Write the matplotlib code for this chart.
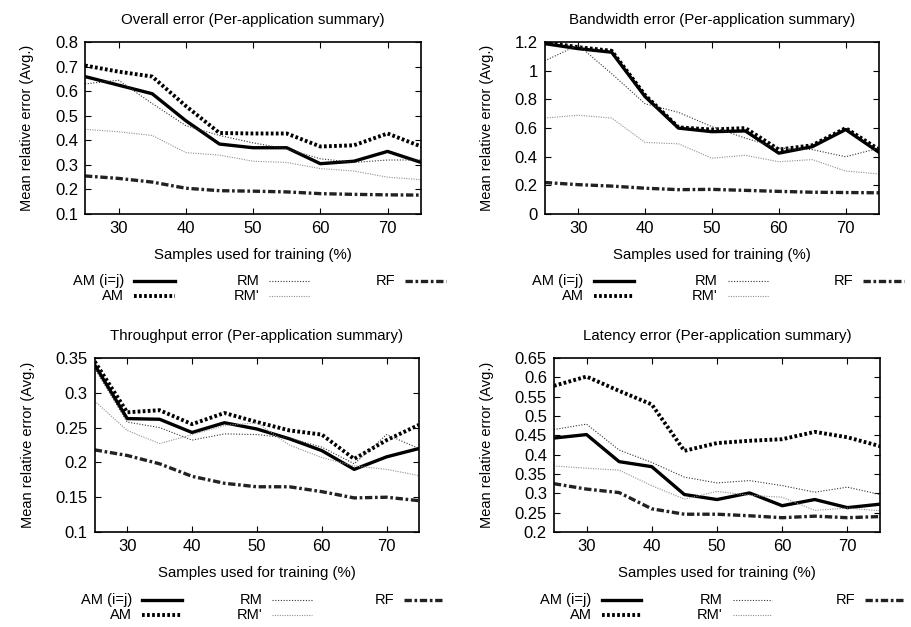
import numpy as np
import matplotlib.pyplot as plt
from matplotlib.lines import Line2D
from matplotlib.ticker import FuncFormatter

plt.rcParams['font.family'] = ['Liberation Sans', 'DejaVu Sans']

samples = [25, 30, 35, 40, 45, 50, 55, 60, 65, 70, 75]
labels = ['AM (i=j)', 'AM', 'RM', "RM'", 'RF']

# overall error
ov_amij = [0.66, 0.625, 0.59, 0.48, 0.385, 0.37, 0.37, 0.305, 0.315, 0.355, 0.31]
ov_am = [0.705, 0.68, 0.66, 0.54, 0.43, 0.428, 0.428, 0.375, 0.38, 0.428, 0.375]
ov_rm = [0.63, 0.645, 0.55, 0.46, 0.42, 0.39, 0.365, 0.325, 0.31, 0.32, 0.32]
ov_rm2 = [0.445, 0.435, 0.42, 0.35, 0.34, 0.315, 0.31, 0.285, 0.275, 0.25, 0.24]
ov_rf = [0.255, 0.245, 0.23, 0.205, 0.195, 0.193, 0.19, 0.183, 0.18, 0.178, 0.177]

# bandwidth error
bw_amij = [1.19, 1.155, 1.13, 0.82, 0.6, 0.575, 0.58, 0.425, 0.47, 0.59, 0.43]
bw_am = [1.2, 1.165, 1.14, 0.83, 0.605, 0.59, 0.6, 0.45, 0.48, 0.6, 0.45]
bw_rm = [1.07, 1.18, 0.98, 0.77, 0.71, 0.61, 0.53, 0.46, 0.45, 0.4, 0.46]
bw_rm2 = [0.67, 0.69, 0.67, 0.5, 0.49, 0.39, 0.41, 0.365, 0.38, 0.3, 0.28]
bw_rf = [0.22, 0.205, 0.195, 0.18, 0.17, 0.172, 0.165, 0.158, 0.152, 0.15, 0.148]

# throughput error
tp_amij = [0.34, 0.263, 0.262, 0.243, 0.257, 0.248, 0.234, 0.217, 0.19, 0.208, 0.22]
tp_am = [0.345, 0.272, 0.275, 0.255, 0.271, 0.258, 0.246, 0.24, 0.205, 0.232, 0.254]
tp_rm = [0.335, 0.258, 0.25, 0.232, 0.241, 0.24, 0.235, 0.222, 0.198, 0.24, 0.22]
tp_rm2 = [0.288, 0.246, 0.227, 0.24, 0.253, 0.257, 0.225, 0.207, 0.195, 0.19, 0.181]
tp_rf = [0.218, 0.21, 0.198, 0.18, 0.17, 0.165, 0.165, 0.158, 0.149, 0.15, 0.145]

# latency error
lt_amij = [0.443, 0.452, 0.382, 0.369, 0.297, 0.284, 0.301, 0.268, 0.284, 0.263, 0.272]
lt_am = [0.578, 0.602, 0.565, 0.53, 0.41, 0.43, 0.436, 0.44, 0.459, 0.445, 0.422]
lt_rm = [0.465, 0.479, 0.412, 0.38, 0.342, 0.327, 0.333, 0.32, 0.303, 0.316, 0.297]
lt_rm2 = [0.371, 0.365, 0.36, 0.32, 0.285, 0.305, 0.295, 0.29, 0.256, 0.262, 0.255]
lt_rf = [0.325, 0.311, 0.302, 0.26, 0.246, 0.246, 0.242, 0.237, 0.241, 0.237, 0.24]

styles = [
    dict(color='black', lw=2.4, ls='-'),
    dict(color='black', lw=2.8, ls=(0, (0.7, 0.6))),
    dict(color='#333333', lw=0.8, ls=(0, (1, 1.5))),
    dict(color='#909090', lw=0.8, ls=(0, (1, 1.2))),
    dict(color='#222222', lw=2.4, ls=(0, (2.2, 0.8, 0.8, 0.8))),
]

panels = [
    ('Overall error (Per-application summary)', [ov_amij, ov_am, ov_rm, ov_rm2, ov_rf],
     (0.1, 0.8), 0.1, [0.0933, 0.6587, 0.369, 0.274]),
    ('Bandwidth error (Per-application summary)', [bw_amij, bw_am, bw_rm, bw_rm2, bw_rf],
     (0, 1.2), 0.2, [0.598, 0.6587, 0.367, 0.274]),
    ('Throughput error (Per-application summary)', [tp_amij, tp_am, tp_rm, tp_rm2, tp_rf],
     (0.1, 0.35), 0.05, [0.104, 0.1515, 0.356, 0.2775]),
    ('Latency error (Per-application summary)', [lt_amij, lt_am, lt_rm, lt_rm2, lt_rf],
     (0.2, 0.65), 0.05, [0.608, 0.1515, 0.358, 0.2775]),
]

fig = plt.figure(figsize=(9.11, 6.27), dpi=100)

for title, series, ylim, ystep, rect in panels:
    ax = fig.add_axes(rect)
    for s, st in zip(series, styles):
        ax.plot(samples, s, **st)
    ax.set_xlim(25, 75)
    ax.set_ylim(*ylim)
    ax.set_xticks([30, 40, 50, 60, 70])
    ax.set_yticks(np.arange(ylim[0], ylim[1] + ystep / 2, ystep))
    ax.yaxis.set_major_formatter(FuncFormatter(lambda v, p: '%g' % round(v, 3)))
    ax.tick_params(direction='in', top=True, right=True, labelsize=12, length=4, pad=5)
    ax.set_title(title, fontsize=10.8, pad=13)
    ax.set_xlabel('Samples used for training (%)', fontsize=10.8, labelpad=9)
    ax.set_ylabel('Mean relative error (Avg.)', fontsize=10.5, labelpad=15)
    for sp in ax.spines.values():
        sp.set_linewidth(1.2)

    # gnuplot style key below the plot
    xs = [0.116, 0.116, 0.518, 0.518, 0.923]
    ys = [-0.39, -0.475, -0.39, -0.475, -0.39]
    for lab, st, x0, y0 in zip(labels, styles, xs, ys):
        ax.text(x0, y0, lab, transform=ax.transAxes, ha='right', va='center', fontsize=10.5)
        ax.add_line(Line2D([x0 + 0.03, x0 + 0.152], [y0, y0], transform=ax.transAxes,
                           clip_on=False, **st))

fig.savefig('out.png', dpi=100)
